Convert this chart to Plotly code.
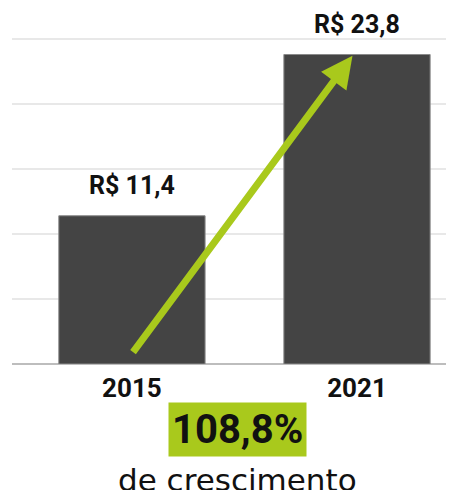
import plotly.graph_objects as go

categories = ["2015", "2021"]
values = [11.4, 23.8]
growth_label = "108,8%"
growth_caption = "de crescimento"
y_ticks = [0, 5, 10, 15, 20, 25]

BAR = "#444444"
GREEN = "#a9c91c"

def brl(v):
    return "R$ " + f"{v:.1f}".replace(".", ",")

fig = go.Figure()
fig.add_trace(go.Bar(
    x=categories, y=values,
    width=0.65,
    marker=dict(color=BAR, line=dict(color="#8a8a8a", width=1)),
    hoverinfo="skip",
))

# value labels above bars (positioned by category index)
for i, v in enumerate(values):
    fig.add_annotation(x=i, y=v, xref="x", yref="y", text=brl(v), showarrow=False,
                       yanchor="bottom", yshift=14,
                       font=dict(family="Roboto", size=25, color="#111111", weight="bold"))

# growth arrow from base of first bar to top of second
fig.add_annotation(x=0.98, y=values[1] - 0.1, ax=0, ay=0.8,
                   xref="x", yref="y", axref="x", ayref="y",
                   showarrow=True, arrowhead=2, arrowsize=0.9,
                   arrowwidth=7, arrowcolor=GREEN, text="")

fig.add_annotation(x=0.5113, y=-0.2006, xref="paper", yref="paper",
                   text="<b>" + growth_label + "</b>", showarrow=False,
                   xanchor="center", yanchor="middle",
                   bgcolor=GREEN, borderpad=3,
                   font=dict(family="Roboto", size=40, color="#111111", weight=900))

fig.add_annotation(x=0.510, y=-0.352, xref="paper", yref="paper",
                   text=growth_caption, showarrow=False,
                   xanchor="center", yanchor="middle",
                   font=dict(family="DejaVu Sans", size=31, color="#111111"))

# page has an 8px body margin, so the figure is 8px smaller and shifted
fig.update_layout(
    width=446, height=482,
    margin=dict(l=4, r=0, t=27, b=126),
    paper_bgcolor="white", plot_bgcolor="white",
    showlegend=False,
    xaxis=dict(type="category", range=[-0.533, 1.431],
               tickfont=dict(family="Roboto", size=26, color="#111111", weight="bold"),
               showgrid=False, showline=False, ticks="", ticklabelstandoff=6),
    yaxis=dict(range=[0, 25.3], tickvals=y_ticks, showticklabels=False,
               showgrid=True, gridcolor="#e8e8e8", gridwidth=2,
               zeroline=True, zerolinecolor="#bdbdbd", zerolinewidth=2),
)

fig.write_html("out.html")
